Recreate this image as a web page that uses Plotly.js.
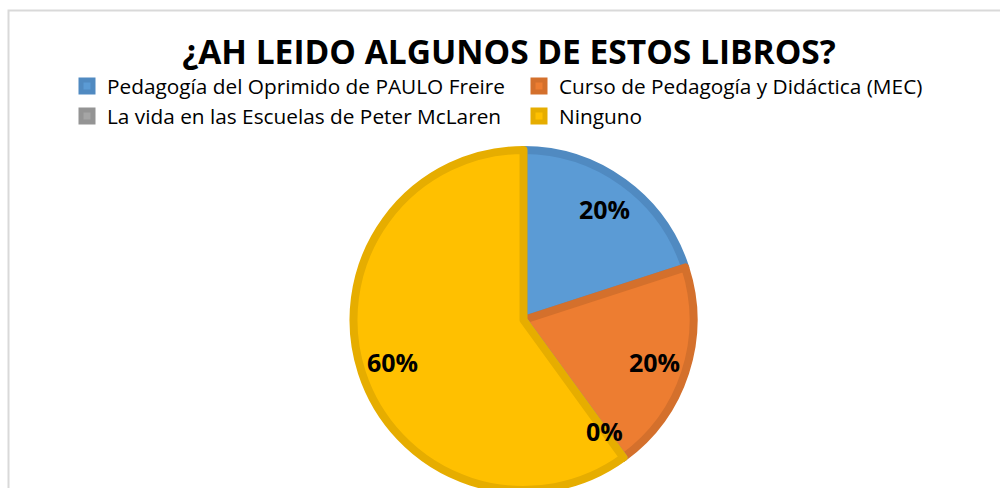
<!DOCTYPE html>
<html>
<head>
<meta charset="utf-8">
<script src="https://cdn.plot.ly/plotly-3.0.1.min.js"></script>
<style>
html,body{margin:0;padding:0;overflow:hidden;background:#fff;}
#chart{width:1000px;height:520px;}
</style>
</head>
<body>
<div id="chart"></div>
<script>
var titleText = "¿AH LEIDO ALGUNOS DE ESTOS LIBROS?";
var labels = [
  "Pedagogía del Oprimido de PAULO Freire",
  "Curso de Pedagogía y Didáctica (MEC)",
  "La vida en las Escuelas de Peter McLaren",
  "Ninguno"
];
var values = [20, 20, 0, 60];
var fillColors = ["#5B9BD5", "#ED7D31", "#A5A5A5", "#FFC000"];
var lineColors = ["#508AC1", "#D4702C", "#949494", "#E6AD00"];

var W = 1000, H = 520;
var cx = 523.5, cy = 320, r = 170;

var total = values.reduce(function(a,b){return a+b;}, 0);
var annotations = [];
var cum = 0;
for (var i = 0; i < values.length; i++) {
  var frac = values[i] / total;
  var mid = (cum + frac / 2) * 2 * Math.PI;
  cum += frac;
  var d = 0.79 * (r + 4);
  var px = cx + d * Math.sin(mid);
  var py = cy - d * Math.cos(mid);
  annotations.push({
    x: px / W, y: 1 - py / H, xref: "paper", yref: "paper",
    text: "<b>" + Math.round(frac * 100) + "%</b>",
    showarrow: false, xanchor: "center", yanchor: "middle",
    font: {family: "Open Sans, sans-serif", size: 25, color: "#000"}
  });
}

var trace = {
  type: "pie",
  labels: labels,
  values: values,
  sort: false,
  direction: "clockwise",
  rotation: 0,
  textinfo: "none",
  hoverinfo: "label+percent",
  marker: {colors: fillColors, line: {color: lineColors, width: 8}},
  domain: {
    x: [(cx - r) / W, (cx + r) / W],
    y: [(H - cy - r) / H, (H - cy + r) / H]
  }
};

var layout = {
  width: W, height: H,
  margin: {l: 0, r: 0, t: 0, b: 0},
  paper_bgcolor: "#fff",
  plot_bgcolor: "#fff",
  title: {
    text: "<b>" + titleText + "</b>",
    x: 0.509, xanchor: "center",
    y: 1 - 52 / H, yanchor: "middle", yref: "container",
    font: {family: "Open Sans, sans-serif", size: 33.5, color: "#000"}
  },
  showlegend: true,
  legend: {
    orientation: "h",
    x: 0.067, xanchor: "left",
    y: 1 - 66 / H, yanchor: "top",
    entrywidth: 407, entrywidthmode: "pixels",
    itemwidth: 30,
    traceorder: "normal",
    font: {family: "Open Sans, sans-serif", size: 20.8, color: "#000"},
    bgcolor: "rgba(0,0,0,0)"
  },
  annotations: annotations,
  shapes: [{
    type: "rect", xref: "paper", yref: "paper",
    x0: 8.5 / W, x1: 1.05, y0: -0.1, y1: 1 - 10.5 / H,
    line: {color: "#D9D9D9", width: 2}, fillcolor: "rgba(0,0,0,0)", layer: "below"
  }]
};

Plotly.newPlot("chart", [trace], layout, {displayModeBar: false, staticPlot: true});
</script>
</body>
</html>
